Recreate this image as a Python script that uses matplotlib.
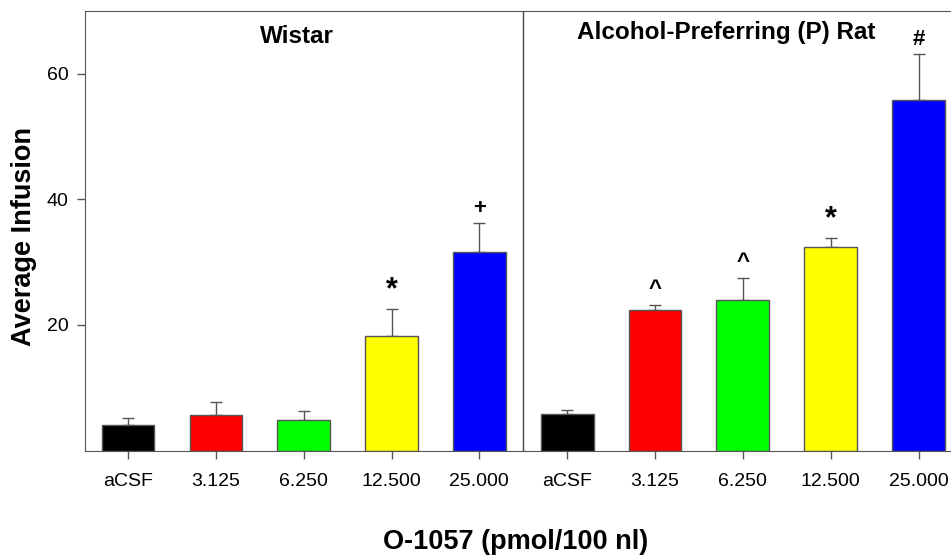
import matplotlib
matplotlib.use("Agg")
import matplotlib.pyplot as plt

plt.rcParams['font.family'] = ['Liberation Sans', 'DejaVu Sans']

# data
doses = ['aCSF', '3.125', '6.250', '12.500', '25.000']
wistar_mean = [4.0, 5.6, 4.9, 18.2, 31.6]
wistar_err = [1.1, 2.2, 1.4, 4.3, 4.6]
p_mean = [5.8, 22.3, 24.0, 32.4, 55.8]
p_err = [0.7, 0.8, 3.5, 1.5, 7.4]
bar_colors = ['#000000', '#ff0000', '#00ff00', '#ffff00', '#0000ff']
wistar_marks = ['', '', '', '*', '+']
p_marks = ['', '^', '^', '*', '#']
groups = ['Wistar', 'Alcohol-Preferring (P) Rat']

fig = plt.figure(figsize=(9.51, 5.57), dpi=100)
ax = fig.add_axes([85 / 951, 1 - 450.5 / 557, 1 - 85 / 951, 439.5 / 557])

n = len(doses)
means = wistar_mean + p_mean
errs = wistar_err + p_err
marks = wistar_marks + p_marks
xs = list(range(2 * n))
ax.bar(xs, means, width=0.6, color=bar_colors * 2, edgecolor='#555555', linewidth=1, zorder=2)
ax.errorbar(xs, means, yerr=[[0] * len(errs), errs], fmt='none', ecolor='#555555',
            elinewidth=1, capsize=4, capthick=1, zorder=1)

# significance marks
for x, m, e, s in zip(xs, means, errs, marks):
    if not s:
        continue
    fs = 22 if s == '*' else 16
    off = 0.6 if s != '^' else 0.8
    ax.text(x, m + e + off, s, ha='center', va='bottom', fontsize=fs, fontweight='bold')

# divider between groups
ax.axvline(n - 0.5, color='#444444', linewidth=1)

ax.text(1.92, 65.9, groups[0], ha='center', va='center', fontsize=17.5, fontweight='bold')
ax.text(6.81, 66.6, groups[1], ha='center', va='center', fontsize=17.5, fontweight='bold')

ax.set_xlim(-0.49, 9.37)
ax.set_ylim(0, 70)
ax.set_yticks([20, 40, 60])
ax.set_xticks(xs)
ax.set_xticklabels(doses * 2)
ax.tick_params(axis='both', labelsize=14, colors='#555555', labelcolor='black', length=6, width=1)
ax.tick_params(axis='x', pad=10)
ax.tick_params(axis='y', pad=6)
for sp in ['left', 'bottom', 'top']:
    ax.spines[sp].set_color('#555555')
ax.spines['right'].set_visible(False)

fig.text(516 / 951, 1 - 542 / 557, 'O-1057 (pmol/100 nl)', ha='center', va='center',
         fontsize=19.5, fontweight='bold')
fig.text(24 / 951, 1 - 236 / 557, 'Average Infusion', ha='center', va='center',
         rotation=90, fontsize=19.5, fontweight='bold')

fig.savefig('out.png', dpi=100)
